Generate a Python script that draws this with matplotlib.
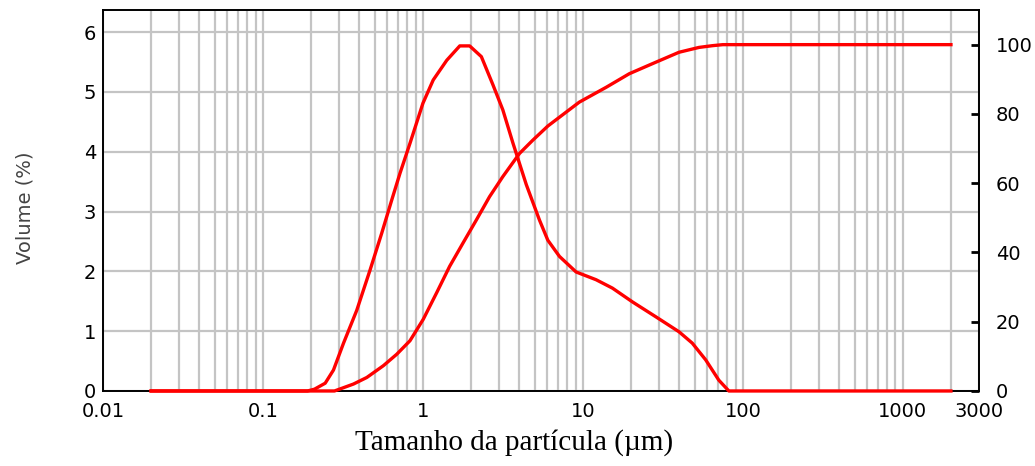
import matplotlib
matplotlib.use('Agg')
import matplotlib.pyplot as plt
from matplotlib.ticker import FixedLocator, LogLocator, NullFormatter, FixedFormatter

# particle size (um) and volume density (%)
size_density = [0.02, 0.19, 0.21, 0.245, 0.276, 0.319, 0.386, 0.467, 0.553, 0.638,
                0.719, 0.83, 1.0, 1.16, 1.41, 1.70, 1.96, 2.32, 2.74, 3.16,
                3.65, 4.43, 5.35, 6.04, 7.14, 9.07, 12.1, 15.3, 20.4, 28.6,
                39.9, 48.3, 58.6, 70.8, 81.8, 2000]
volume = [0, 0, 0.03, 0.13, 0.35, 0.80, 1.35, 2.02, 2.64, 3.19,
          3.64, 4.14, 4.81, 5.20, 5.53, 5.77, 5.77, 5.59, 5.12, 4.70,
          4.15, 3.45, 2.86, 2.52, 2.25, 1.99, 1.86, 1.72, 1.49, 1.24,
          0.99, 0.80, 0.52, 0.18, 0, 0]

# particle size (um) and cumulative volume (%)
size_cumulative = [0.02, 0.28, 0.304, 0.368, 0.446, 0.566, 0.686, 0.83, 1.005, 1.22,
                   1.47, 1.78, 2.16, 2.61, 3.16, 4.02, 4.86, 6.04, 9.5, 14.0,
                   19.5, 27.2, 39.9, 53.2, 64.4, 75, 2000]
cumulative = [0, 0, 0.6, 2.0, 3.9, 7.3, 10.6, 14.5, 20.7, 28.4,
              36.0, 42.7, 49.4, 56.1, 61.9, 68.6, 72.4, 76.5, 83.4, 87.7,
              91.6, 94.5, 97.8, 99.2, 99.7, 100, 100]

x_ticks = [0.01, 0.1, 1, 10, 100, 1000, 3000]
x_tick_labels = ['0.01', '0.1', '1', '10', '100', '1000', '3000']
left_ticks = [0, 1, 2, 3, 4, 5, 6]
right_ticks = [0, 20, 40, 60, 80, 100]


def main():
    fig = plt.figure(figsize=(10.35, 4.66), dpi=100)
    ax = fig.add_axes([0.0995, 0.161, 0.8465, 0.8175])

    grid_color = '#c4c4c4'
    ax.set_xscale('log')
    ax.set_xlim(0.01, 3000)
    ax.set_ylim(0, 6.37)

    ax.xaxis.set_major_locator(FixedLocator(x_ticks))
    ax.xaxis.set_major_formatter(FixedFormatter(x_tick_labels))
    ax.xaxis.set_minor_locator(LogLocator(base=10, subs=range(2, 10), numticks=20))
    ax.xaxis.set_minor_formatter(NullFormatter())
    ax.set_yticks(left_ticks)

    ax.grid(True, which='both', axis='x', color=grid_color, linewidth=1.6)
    ax.grid(True, which='major', axis='y', color=grid_color, linewidth=1.6)
    ax.set_axisbelow(True)

    ax.tick_params(axis='both', which='both', length=0, labelsize=14)
    ax.tick_params(axis='y', pad=5)
    ax.tick_params(axis='x', pad=8)

    for side in ax.spines.values():
        side.set_linewidth(1.4)
        side.set_color('black')

    ax2 = ax.twinx()
    ax2.set_ylim(0, 110)
    ax2.set_yticks(right_ticks)
    ax2.tick_params(axis='y', direction='in', length=6, width=2, labelsize=14, pad=12)
    for side in ax2.spines.values():
        side.set_visible(False)

    ax.plot(size_density, volume, color='#ff0000', linewidth=2.4, zorder=3,
            clip_on=False)
    ax2.plot(size_cumulative, cumulative, color='#ff0000', linewidth=2.4, zorder=3,
             clip_on=False)

    fig.text(0.024, 0.555, 'Volume (%)', rotation=90, ha='center', va='center',
             fontsize=14, color='#444444')
    fig.text(0.497, 0.05, 'Tamanho da partícula (µm)', ha='center', va='center',
             fontsize=21, family='Liberation Serif')

    fig.savefig('out.png', dpi=100)


if __name__ == "__main__":
    main()
